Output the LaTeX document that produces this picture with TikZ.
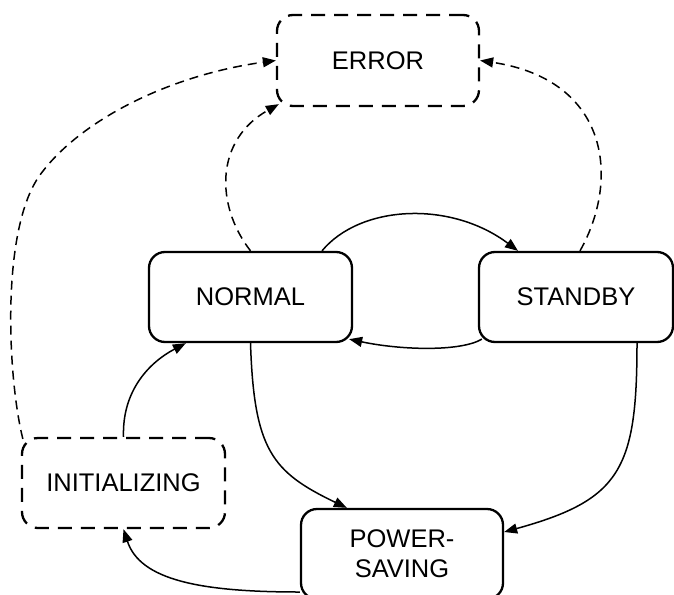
\documentclass[tikz,border=0pt]{standalone}
\usepackage{fontspec}
\setmainfont{Liberation Sans}
\usetikzlibrary{arrows.meta,calc}
\begin{document}
\begin{tikzpicture}[x=1pt,y=-1pt,
  statebox/.style={draw, rounded corners=16pt, line width=2.3pt, align=center,
    font=\fontsize{25.5}{30}\selectfont, inner sep=0pt},
  dashbox/.style={statebox, dash pattern=on 14pt off 9pt},
  trans/.style={line width=1.5pt, -{Triangle[length=13pt,width=10pt]}},
  errtrans/.style={trans, dash pattern=on 9pt off 6pt}]
\clip (0,0) rectangle (674,594);
\fill[white] (0,0) rectangle (674,594);

\node[dashbox, minimum width=202pt, minimum height=91pt] (error) at (378,60.5) {ERROR};
\node[statebox, minimum width=203pt, minimum height=90pt] (normal) at (250.5,297) {NORMAL};
\node[statebox, minimum width=194pt, minimum height=90pt] (standby) at (576,297) {STANDBY};
\node[dashbox, minimum width=203pt, minimum height=90pt] (init) at (123.5,483) {INITIALIZING};
\node[statebox, minimum width=202pt, minimum height=90pt] (power) at (402,554) {POWER-\\SAVING};

% NORMAL -> STANDBY
\draw[trans] ($(normal.north)+(71.5,0)$) .. controls (360,205) and (450,200) .. ($(standby.north)+(-58,0)$);
% STANDBY -> NORMAL
\draw[trans] ($(standby.south west)+(4,-4)$) .. controls (460,352) and (400,350) .. ($(normal.south east)+(-4,-4)$);
% NORMAL -> POWER-SAVING
\draw[trans] (normal.south) .. controls (254,450) and (272,472) .. ($(power.north west)+(47,0)$);
% STANDBY -> POWER-SAVING
\draw[trans] ($(standby.south)+(61,0)$) .. controls (637,470) and (620,500) .. ($(power.east)+(0,-22)$);
% POWER-SAVING -> INITIALIZING
\draw[trans] ($(power.west)+(0,38)$) .. controls (200,592) and (140,580) .. (init.south);
% INITIALIZING -> NORMAL
\draw[trans] (init.north) .. controls (122,390) and (150,362) .. ($(normal.south west)+(38,0)$);

% to ERROR
\coordinate (bend) at (40,175);
\draw[errtrans] ($(init.north west)+(2,2)$) .. controls (8,380) and (0,230) .. (bend)
  .. controls (80,120) and (170,75) .. (error.west);
\draw[errtrans] (normal.north) .. controls (215,205) and (215,140) .. ($(error.south west)+(3,-3)$);
\draw[errtrans] ($(standby.north)+(4,0)$) .. controls (620,180) and (610,80) .. (error.east);
\end{tikzpicture}
\end{document}
